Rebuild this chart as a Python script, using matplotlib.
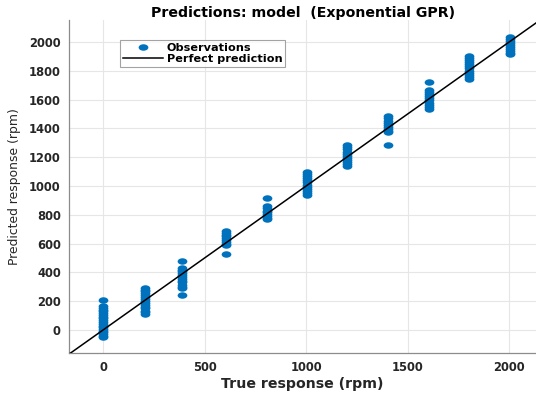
import matplotlib
matplotlib.use("Agg")
import matplotlib.pyplot as plt
from matplotlib.path import Path
import numpy as np

plt.rcParams['font.family'] = ['DejaVu Sans']

# True response groups (rpm) and predicted responses per group
true_levels = [0, 208, 388, 604, 807, 1005, 1202, 1405, 1605, 1805, 2005]
pred_0 = [-50, -40, -28, -15, -5, 5, 18, 30, 42, 55, 68, 80, 92, 105, 118, 130, 142, 155, 170, 205]
pred_208 = [110, 122, 135, 150, 162, 175, 190, 203, 215, 228, 240, 255, 268, 280, 295]
pred_388 = [243, 290, 302, 315, 330, 342, 355, 368, 380, 395, 408, 420, 430, 480]
pred_604 = [528, 590, 600, 612, 625, 638, 650, 662, 675, 685]
pred_807 = [770, 780, 792, 805, 818, 830, 845, 858, 915]
pred_1005 = [940, 955, 968, 980, 995, 1010, 1025, 1040, 1055, 1070, 1085, 1100]
pred_1202 = [1138, 1150, 1165, 1180, 1195, 1210, 1225, 1240, 1255, 1270, 1282]
pred_1405 = [1282, 1373, 1385, 1398, 1410, 1425, 1440, 1455, 1470, 1488]
pred_1605 = [1536, 1550, 1565, 1580, 1595, 1610, 1625, 1640, 1655, 1668, 1720]
pred_1805 = [1744, 1758, 1772, 1788, 1802, 1818, 1832, 1848, 1862, 1878, 1892, 1904]
pred_2005 = [1914, 1926, 1940, 1955, 1968, 1982, 1996, 2010, 2022, 2034]
pred_groups = [pred_0, pred_208, pred_388, pred_604, pred_807, pred_1005,
               pred_1202, pred_1405, pred_1605, pred_1805, pred_2005]

x_ticks = [0, 500, 1000, 1500, 2000]
y_ticks = [0, 200, 400, 600, 800, 1000, 1200, 1400, 1600, 1800, 2000]
xlim = (-167, 2133)
ylim = (-160, 2153)

fig = plt.figure(figsize=(5.36, 3.94), dpi=100)
ax = fig.add_axes([0.129, 0.104, 0.871, 0.845])

xs = np.concatenate([[t] * len(g) for t, g in zip(true_levels, pred_groups)])
ys = np.concatenate(pred_groups)

circ = Path.unit_circle()
ell = Path(circ.vertices * np.array([1.5, 1.0]), circ.codes)

ax.plot(xs, ys, linestyle='none', marker=ell, markersize=7,
        color='#0072BD', markeredgewidth=0, label='Observations', zorder=3)
ax.plot([-1000, 3000], [-1000, 3000], color='black', linewidth=1.1,
        label='Perfect prediction', zorder=4)

ax.set_xlim(*xlim)
ax.set_ylim(*ylim)
ax.set_xticks(x_ticks)
ax.set_yticks(y_ticks)
ax.grid(True, color='#e6e6e6', linewidth=0.8)
ax.set_axisbelow(True)
for s in ['top', 'right']:
    ax.spines[s].set_visible(False)
for s in ['left', 'bottom']:
    ax.spines[s].set_color('#8c8c8c')
    ax.spines[s].set_linewidth(0.9)
ax.tick_params(length=0, labelsize=8.3, labelcolor='#262626', pad=6)
for lab in ax.get_xticklabels() + ax.get_yticklabels():
    lab.set_fontweight('bold')

ax.set_xlabel('True response (rpm)', fontsize=10.2, fontweight='bold',
              color='#262626', labelpad=2)
ax.set_ylabel('Predicted response (rpm)', fontsize=8.9, color='#262626', labelpad=6)
ax.set_title('Predictions: model  (Exponential GPR)', fontsize=10.2,
             fontweight='bold', color='black', pad=2)

leg = ax.legend(loc='upper left', bbox_to_anchor=(0.109, 0.94),
                prop={'weight': 'bold', 'size': 8.1}, frameon=True, fancybox=False,
                borderpad=0.25, handlelength=3.6, handletextpad=0.3,
                labelspacing=0.12, borderaxespad=0)
leg.get_frame().set_edgecolor('#8c8c8c')
leg.get_frame().set_linewidth(0.8)

fig.savefig('out.png', dpi=100)
